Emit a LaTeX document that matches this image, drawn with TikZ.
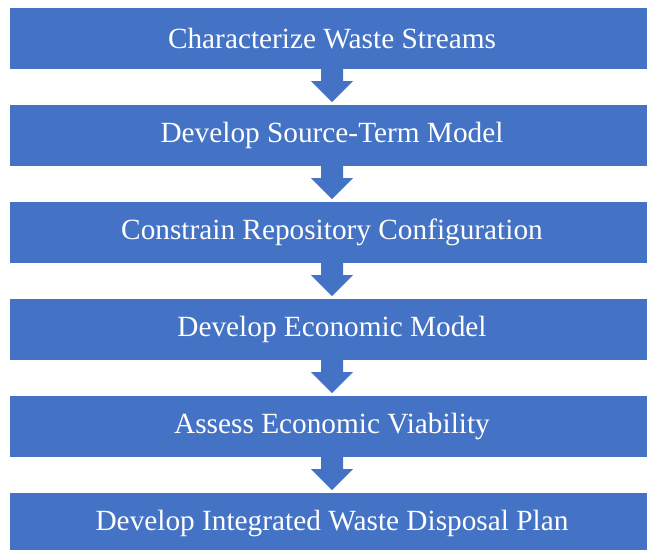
\documentclass[tikz,border=0pt]{standalone}
\usepackage{fontspec}
\setmainfont{Liberation Serif}
\usetikzlibrary{calc}
\definecolor{boxblue}{HTML}{4472C4}
\tikzset{
  stepbox/.style={fill=boxblue, draw=none, minimum width=644.5pt, minimum height=61pt, inner sep=0pt, text=white, font=\fontsize{29.3}{35}\selectfont},
  arrowfill/.style={fill=boxblue}
}
\newcommand\flowarr[2]{\fill[arrowfill] ($(#1.south)+(-11,0)$) -- ($(#1.south)+(11,0)$) -- ($(#1.south)+(11,12)$) -- ($(#1.south)+(21,12)$) -- ($(#2.north)+(0,-2.7)$) -- ($(#1.south)+(-21,12)$) -- ($(#1.south)+(-11,12)$) -- cycle;}
\begin{document}
\begin{tikzpicture}[x=1pt,y=-1pt]
\useasboundingbox (0,0) rectangle (647,549);
\clip (0,0) rectangle (647,549);
\fill[white] (0,0) rectangle (647,549);
\node[stepbox] (b1) at (332,38.5) {Characterize Waste Streams};
\node[stepbox] (b2) at (332,135.5) {Develop Source-Term Model};
\node[stepbox] (b3) at (332,232.5) {Constrain Repository Configuration};
\node[stepbox] (b4) at (332,329.5) {Develop Economic Model};
\node[stepbox] (b5) at (332,426.5) {Assess Economic Viability};
\node[stepbox] (b6) at (332,523.5) {Develop Integrated Waste Disposal Plan};
\flowarr{b1}{b2}
\flowarr{b2}{b3}
\flowarr{b3}{b4}
\flowarr{b4}{b5}
\flowarr{b5}{b6}
\end{tikzpicture}
\end{document}
